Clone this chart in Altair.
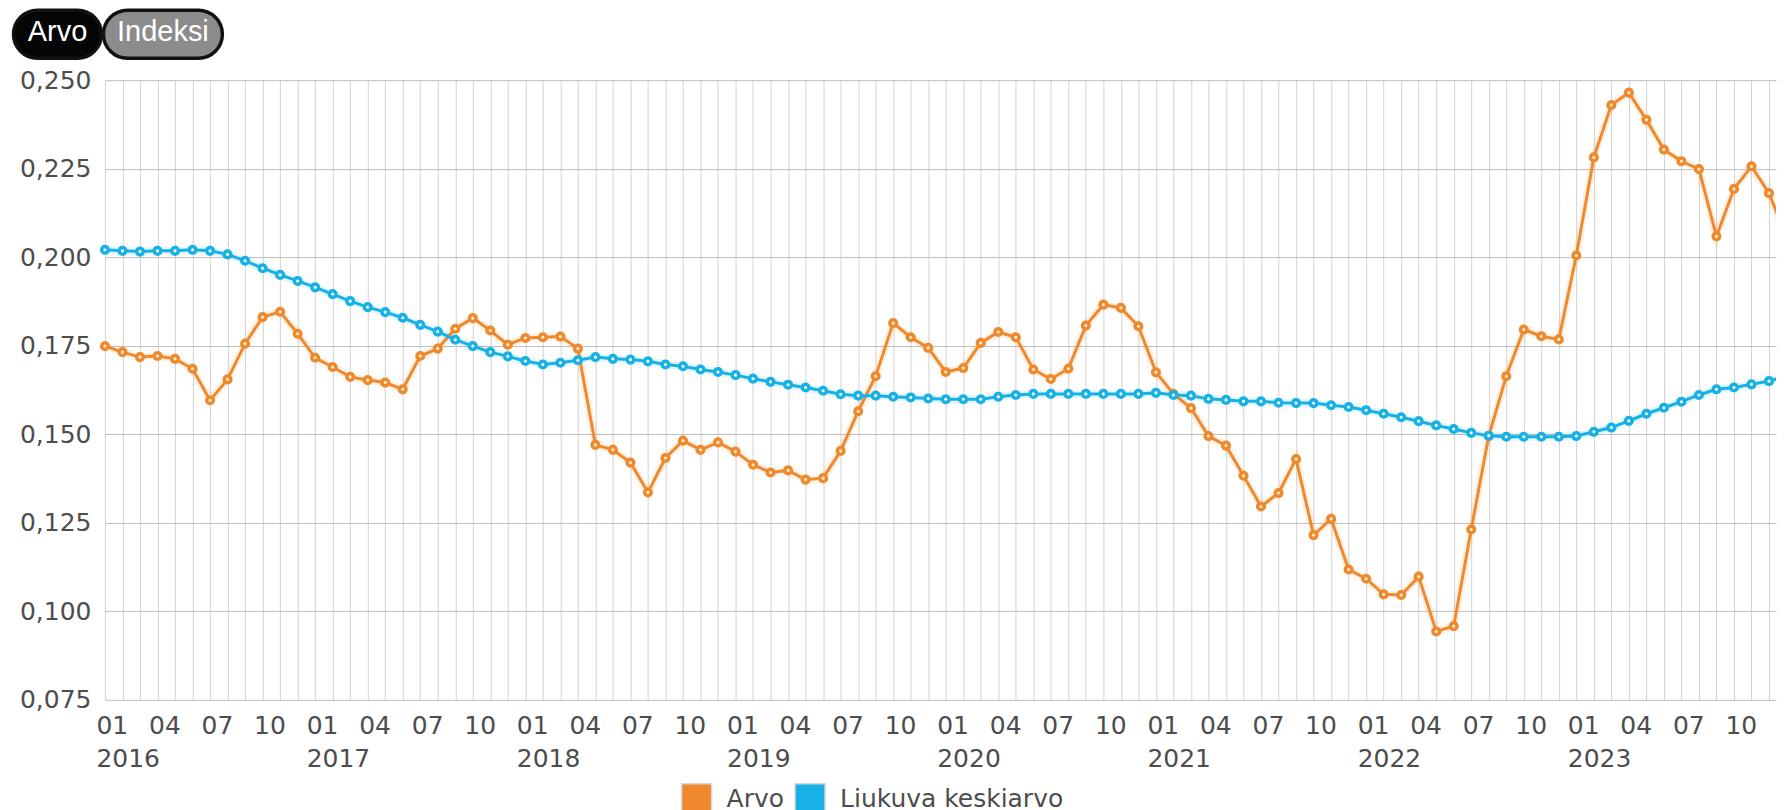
import altair as alt
import pandas as pd

START_YEAR = 2016
SERIES = ["Arvo", "Liukuva keskiarvo"]
SERIES_COLORS = ["#EE8A2D", "#17B1E6"]
BUTTONS = ["Arvo", "Indeksi"]
BUTTON_COLORS = ["#050505", "#8c8c8c"]
Y_TICKS = [0.075, 0.100, 0.125, 0.150, 0.175, 0.200, 0.225, 0.250]

# Monthly values from 2016-01 onwards
arvo = [
    0.1749, 0.1732, 0.1718, 0.1721, 0.1713, 0.1685, 0.1596, 0.1655, 0.1756, 0.1831, 0.1846, 0.1784,
    0.1716, 0.1690, 0.1662, 0.1653, 0.1646, 0.1627, 0.1721, 0.1742, 0.1798, 0.1828, 0.1793, 0.1753,
    0.1772, 0.1774, 0.1776, 0.1742, 0.1470, 0.1456, 0.1420, 0.1336, 0.1433, 0.1482, 0.1456, 0.1477,
    0.1451, 0.1414, 0.1392, 0.1398, 0.1372, 0.1376, 0.1453, 0.1565, 0.1664, 0.1814, 0.1774, 0.1744,
    0.1676, 0.1687, 0.1758, 0.1789, 0.1774, 0.1683, 0.1656, 0.1685, 0.1807, 0.1866, 0.1857, 0.1805,
    0.1675, 0.1614, 0.1574, 0.1495, 0.1468, 0.1383, 0.1296, 0.1334, 0.1430, 0.1215, 0.1261, 0.1118,
    0.1092, 0.1048, 0.1046, 0.1098, 0.0943, 0.0958, 0.1231, 0.1495, 0.1664, 0.1796, 0.1777, 0.1768,
    0.2005, 0.2282, 0.2430, 0.2465, 0.2388, 0.2304, 0.2271, 0.2249, 0.2059, 0.2193, 0.2257, 0.2181,
    0.2059,
]
liukuva = [
    0.2021, 0.2018, 0.2016, 0.2018, 0.2018, 0.2021, 0.2018, 0.2008, 0.1990, 0.1969, 0.1950, 0.1933,
    0.1915, 0.1896, 0.1876, 0.1859, 0.1845, 0.1829, 0.1809, 0.1790, 0.1767, 0.1749, 0.1732, 0.1720,
    0.1707, 0.1697, 0.1702, 0.1709, 0.1718, 0.1713, 0.1711, 0.1706, 0.1697, 0.1692, 0.1683, 0.1676,
    0.1667, 0.1657, 0.1648, 0.1640, 0.1632, 0.1623, 0.1613, 0.1609, 0.1609, 0.1606, 0.1604, 0.1601,
    0.1599, 0.1599, 0.1599, 0.1606, 0.1611, 0.1614, 0.1614, 0.1614, 0.1614, 0.1614, 0.1614, 0.1614,
    0.1617, 0.1611, 0.1609, 0.1600, 0.1597, 0.1593, 0.1593, 0.1589, 0.1588, 0.1588, 0.1582, 0.1577,
    0.1568, 0.1558, 0.1548, 0.1537, 0.1525, 0.1515, 0.1504, 0.1496, 0.1493, 0.1493, 0.1493, 0.1493,
    0.1495, 0.1507, 0.1519, 0.1538, 0.1558, 0.1575, 0.1592, 0.1611, 0.1627, 0.1632, 0.1641, 0.1650,
    0.1664,
]

rows = []
for name, vals in zip(SERIES, [arvo, liukuva]):
    for i, v in enumerate(vals):
        rows.append({"idx": i, "series": name, "value": v})
df = pd.DataFrame(rows)

FONT = "DejaVu Sans"
LABEL_COLOR = "#4d4d4d"
FONT_SIZE = 25
X_MAX = 95.4

month_expr = "(datum.value % 12 + 1 < 10 ? '0' : '') + (datum.value % 12 + 1)"
x_label_expr = (
    "datum.value % 3 != 0 ? '' : (datum.value % 12 == 0 ? "
    f"[{month_expr}, '' + ({START_YEAR} + floor(datum.value / 12))] : {month_expr})"
)

x_enc = alt.X(
    "idx:Q",
    scale=alt.Scale(domain=[0, X_MAX], nice=False, zero=False),
    axis=alt.Axis(
        values=list(range(0, 96)), labelExpr=x_label_expr, grid=True, gridColor="#d2d2d2",
        gridWidth=1, ticks=False, domain=False, labelAlign="left", labelOffset=-9,
        labelBaseline="top", labelPadding=14, labelFont=FONT, labelFontSize=FONT_SIZE,
        labelColor=LABEL_COLOR, labelOverlap=False, labelFlush=False, labelLineHeight=33,
        labelBound=False, title=None,
    ),
)
y_enc = alt.Y(
    "value:Q",
    scale=alt.Scale(domain=[0.075, 0.25], nice=False, zero=False),
    axis=alt.Axis(
        values=Y_TICKS, labelExpr="replace(format(datum.value, '.3f'), '.', ',')",
        grid=True, gridColor="#bdbdbd", gridWidth=1, ticks=False, domain=False,
        labelPadding=14, minExtent=97, maxExtent=97, labelFont=FONT, labelFontSize=FONT_SIZE,
        labelColor=LABEL_COLOR, labelFlush=False, title=None,
    ),
)
color_scale = alt.Scale(domain=SERIES, range=SERIES_COLORS)
color_enc = alt.Color("series:N", scale=color_scale, legend=None)
base = alt.Chart(df).encode(x=x_enc, y=y_enc)

layers = []
for name, fill in zip(SERIES, ["#fff0d4", "#ffffff"]):
    sub = base.transform_filter(alt.datum.series == name)
    layers.append(sub.mark_line(strokeWidth=8, opacity=0.12, clip=True).encode(color=color_enc))
    layers.append(sub.mark_line(strokeWidth=3, clip=True).encode(color=color_enc))
    layers.append(
        sub.transform_filter(alt.datum.idx <= 95)
        .mark_point(shape="circle", size=44, strokeWidth=3.5, filled=False, opacity=1)
        .encode(color=color_enc, fill=alt.value(fill))
    )

main = alt.layer(*layers).properties(width=1672, height=620)

# Toggle buttons above the plot (x range shifted left of the plot origin)
btn_df = pd.DataFrame({"label": BUTTONS})
btn_base = alt.Chart(btn_df).encode(
    x=alt.X("label:N", sort=BUTTONS, axis=None,
            scale=alt.Scale(paddingInner=0, paddingOuter=0, range=[-100.25, 110.75])),
)
btn_fill = alt.Fill("label:N", scale=alt.Scale(domain=BUTTONS, range=BUTTON_COLORS), legend=None)
btn_layers = []
for label, w in zip(BUTTONS, [88, 119]):
    btn_layers.append(
        btn_base.transform_filter(alt.datum.label == label)
        .mark_bar(cornerRadius=24, stroke="#111111", strokeWidth=3.5, width=w)
        .encode(fill=btn_fill)
    )
btn_text = btn_base.mark_text(
    color="white", font="Liberation Sans", fontSize=29, baseline="middle", dy=-2,
).encode(text="label:N")
buttons = alt.layer(*btn_layers, btn_text).properties(width=205, height=48)

# Legend row below the axis
leg_df = pd.DataFrame({"series": SERIES})
leg_base = alt.Chart(leg_df).encode(
    x=alt.X("series:N", sort=SERIES, axis=None,
            scale=alt.Scale(paddingInner=0, paddingOuter=0, range=[535.25, 762.25])),
)
leg_sq = leg_base.mark_square(size=900, opacity=1, stroke="#d6d6d6", strokeWidth=1.5).encode(
    color=alt.Color("series:N", scale=color_scale, legend=None),
)
leg_txt = leg_base.mark_text(
    align="left", baseline="middle", dx=30, font=FONT, fontSize=FONT_SIZE, color=LABEL_COLOR,
).encode(text="series:N")
legend_row = alt.layer(leg_sq, leg_txt).properties(width=1672, height=38)

chart = (
    alt.concat(buttons, main, legend_row, columns=1, spacing=8)
    .properties(padding=0, background="white")
    .configure_view(strokeWidth=0)
)

chart.save("out.html", embed_options={"renderer": "svg", "actions": False})
